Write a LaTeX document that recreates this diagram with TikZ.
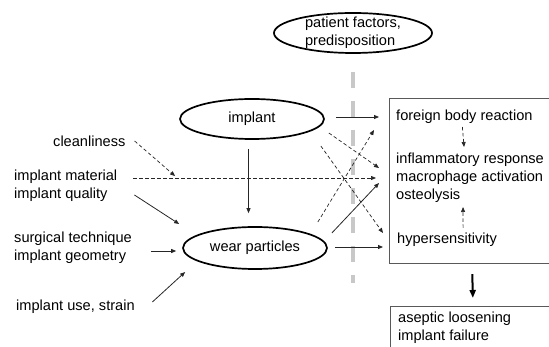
\documentclass[tikz,border=0pt]{standalone}
\usepackage{fontspec}
\setmainfont{Liberation Sans}
\usetikzlibrary{arrows.meta,shapes.geometric}

\definecolor{barrgray}{RGB}{200,200,200}

\begin{document}
\begin{tikzpicture}[
  x=1pt, y=-1pt,
  font=\fontsize{14.6}{18}\selectfont,
  >={Triangle[length=5pt,width=4pt]},
  oval/.style={ellipse, draw=black, line width=1.7pt, inner sep=0pt, minimum width=144pt, minimum height=40pt},
  factor/.style={anchor=west, inner sep=0pt, align=left},
  framebox/.style={draw=black!65, line width=1.1pt, anchor=north west, minimum width=165pt, inner sep=0pt},
  solidarr/.style={->, draw=black!85, line width=0.8pt},
  dasharr/.style={->, draw=black!85, line width=0.7pt, dash pattern=on 3.5pt off 2.5pt},
  bigarr/.style={-{Triangle[length=8pt,width=6pt]}, line width=2pt},
  barrier/.style={draw=barrgray, line width=4.3pt, dash pattern=on 16pt off 13pt}
]
  \useasboundingbox (0,0) rectangle (549,347);

  % patient side
  \node[oval, minimum width=158pt, inner sep=-4pt, align=left] (patient) at (353,33) {patient factors,\\predisposition};
  \draw[barrier] ([yshift=-18pt]patient.south) -- ++(0,211);

  % influences
  \node[factor] (clean) at (53,141) {cleanliness};
  \node[factor] (material) at (14,185.5) {implant material\\implant quality};
  \node[factor] (surgery) at (14,247.5) {surgical technique\\implant geometry};
  \node[factor] (usage) at (16,307) {implant use, strain};

  \node[oval] (implant) at (252,119) {implant};
  \node[oval, minimum height=42pt] (wear) at (255,248) {wear particles};

  % reactions
  \node[framebox, minimum height=165pt] (resp) at (389,98) {};
  \node[factor] (foreign) at (396,117) {foreign body reaction};
  \node[factor] (infl) at (396,178) {inflammatory response\\macrophage activation\\osteolysis};
  \node[factor] (hyper) at (397,240) {hypersensitivity};

  \node[framebox, minimum height=50pt] (failbox) at (390,306) {};
  \node[factor] (failure) at (398,327.5) {aseptic loosening\\implant failure};

  \draw[dasharr, shorten <=16pt, shorten >=20pt] (material.east |- infl.west) -- coordinate[pos=0.215] (join) (infl.west);
  \draw[dasharr, shorten >=3pt] ([xshift=9pt]clean.east) -- (join);
  \draw[solidarr] ([xshift=17pt,yshift=-9.5pt]material.east) -- ([xshift=-3pt,yshift=24pt]wear.west);
  \draw[solidarr] ([xshift=19pt,yshift=-3.5pt]surgery.east) -- ([xshift=-6pt,yshift=-3pt]wear.west);
  \draw[solidarr] ([xshift=17.5pt,yshift=5pt]usage.east) -- ([xshift=3pt,yshift=-24pt]wear.west);
  \draw[solidarr] ([xshift=-3.5pt,yshift=-9pt]implant.south) -- ([xshift=-6.5pt,yshift=13pt]wear.north);

  \draw[solidarr, shorten <=11pt, shorten >=17pt] (implant.east |- foreign.west) -- (foreign.west);
  \draw[dasharr] ([xshift=4pt,yshift=-14pt]implant.east) -- ([xshift=-17pt,yshift=10pt]infl.west);
  \draw[dasharr] ([xshift=-4pt,yshift=-27pt]implant.east) -- ([xshift=-14pt,yshift=7pt]hyper.west);
  \draw[dasharr] ([xshift=-10pt,yshift=26pt]wear.east) -- ([xshift=-22pt,yshift=-13pt]foreign.west);
  \draw[solidarr] ([xshift=4pt,yshift=15pt]wear.east) -- ([xshift=-17pt,yshift=-5pt]infl.west);
  \draw[solidarr] ([xshift=7pt,yshift=1pt]wear.east) -- ([xshift=-14pt,yshift=-7pt]hyper.west);

  \draw[dasharr] ([xshift=-2pt,yshift=-3pt]foreign.south) -- ([xshift=-6pt,yshift=6pt]infl.north);
  \draw[dasharr] ([xshift=16pt,yshift=5pt]hyper.north) -- ([xshift=-7pt,yshift=-4pt]infl.south);
  \draw[bigarr, shorten <=10pt, shorten >=8pt] (resp.south) -- (failbox.north);
\end{tikzpicture}
\end{document}
